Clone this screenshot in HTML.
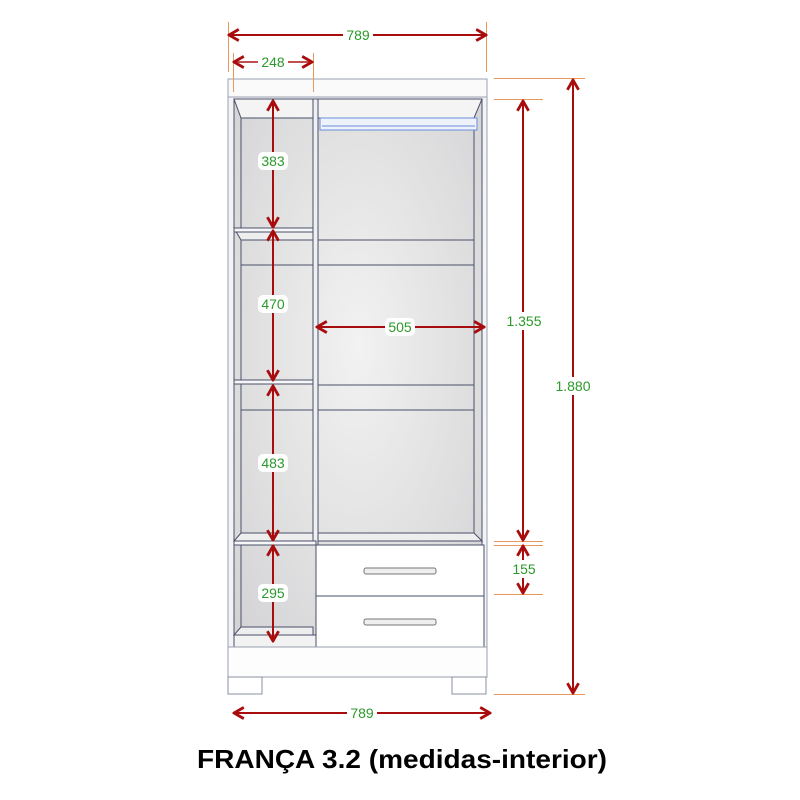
<!DOCTYPE html>
<html><head><meta charset="utf-8"><style>
html,body{margin:0;padding:0;background:#fff;width:800px;height:800px;overflow:hidden}
</style></head><body>
<svg width="800" height="800" viewBox="0 0 800 800" xmlns="http://www.w3.org/2000/svg">
<defs>
<radialGradient id="bg" cx="50%" cy="45%" r="70%"><stop offset="0" stop-color="#f2f2f2"/><stop offset="1" stop-color="#d4d4d6"/></radialGradient>
<marker id="ah" viewBox="0 0 10 10" refX="9" refY="5" markerWidth="7" markerHeight="7" orient="auto-start-reverse"><path d="M2,1 L9,5 L2,9" fill="none" stroke="#a80c0c" stroke-width="2"/></marker>
</defs>
<g stroke="#4a5068" stroke-width="1" fill="none">
<!-- top board -->
<rect x="228" y="79" width="259" height="18" fill="#fafafa" stroke="#9aa0b0"/>
<!-- body -->
<rect x="228" y="97" width="259" height="580" fill="#f4f4f6" stroke="#9aa0b0"/>
<rect x="234" y="99" width="248" height="548" fill="url(#bg)"/>
<!-- left compartment -->
<polygon points="234,99 313,99 313,118 241,118" fill="#f4f4f4"/>
<line x1="241" y1="118" x2="241" y2="640"/>
<line x1="241" y1="118" x2="313" y2="118"/>
<rect x="313" y="99" width="5" height="446" fill="#f0f0f2"/>
<!-- left shelves -->
<polygon points="234,228 313,228 313,240 241,240" fill="#eeeeee"/>
<rect x="234" y="228" width="79" height="4" fill="#f7f7f7"/>
<line x1="241" y1="265" x2="313" y2="265"/>
<rect x="234" y="380" width="79" height="4" fill="#f7f7f7"/>
<line x1="241" y1="410" x2="313" y2="410"/>
<polygon points="241,533 234,541 313,541 313,533" fill="#eeeeee"/>
<rect x="234" y="541" width="82" height="4" fill="#f7f7f7"/>
<polygon points="241,627 234,635 313,635 313,627" fill="#eeeeee"/>
<rect x="234" y="635" width="82" height="12" fill="#f2f2f2"/>
<!-- right compartment -->
<polygon points="318,99 482,99 474,118 318,118" fill="#f4f4f4"/>
<line x1="474" y1="118" x2="474" y2="533"/>
<line x1="318" y1="240" x2="474" y2="240"/>
<line x1="318" y1="265" x2="474" y2="265"/>
<line x1="318" y1="385" x2="474" y2="385"/>
<line x1="318" y1="410" x2="474" y2="410"/>
<polygon points="318,533 474,533 482,541 318,541" fill="#eeeeee"/>
<!-- rod -->
<rect x="320" y="118" width="157" height="12" fill="#eef2fb" stroke="#6a8ad8"/>
<line x1="322" y1="126" x2="475" y2="126" stroke="#6a8ad8"/>
<!-- drawers -->
<rect x="316" y="545" width="168" height="51" fill="#fff"/>
<rect x="316" y="596" width="168" height="51" fill="#fff"/>
<rect x="364" y="568" width="72" height="6" rx="2" fill="#eee" stroke="#777"/>
<rect x="364" y="619" width="72" height="6" rx="2" fill="#eee" stroke="#777"/>
<!-- base -->
<rect x="228" y="647" width="259" height="30" fill="#fdfdfd" stroke="#9aa0b0"/>
<rect x="228" y="677" width="34" height="17" fill="#fff" stroke="#8a90a0"/>
<rect x="452" y="677" width="34" height="17" fill="#fff" stroke="#8a90a0"/>
</g>
<!-- extension lines -->
<g stroke="#e8965a" stroke-width="1">
<line x1="228.5" y1="22" x2="228.5" y2="72"/>
<line x1="486.5" y1="22" x2="486.5" y2="72"/>
<line x1="233.5" y1="53" x2="233.5" y2="92"/>
<line x1="313.5" y1="53" x2="313.5" y2="92"/>
<line x1="494" y1="78.5" x2="585" y2="78.5"/>
<line x1="494" y1="99.5" x2="543" y2="99.5"/>
<line x1="494" y1="541.5" x2="543" y2="541.5"/>
<line x1="494" y1="545.5" x2="543" y2="545.5"/>
<line x1="494" y1="594.5" x2="543" y2="594.5"/>
<line x1="494" y1="694.5" x2="585" y2="694.5"/>
</g>
<!-- dimension lines -->
<g stroke="#a80c0c" stroke-width="2" marker-start="url(#ah)" marker-end="url(#ah)">
<line x1="229" y1="35" x2="486" y2="35"/>
<line x1="234" y1="62" x2="312" y2="62" stroke="#c05050"/>
<line x1="273" y1="101" x2="273" y2="227"/>
<line x1="273" y1="231" x2="273" y2="380"/>
<line x1="273" y1="386" x2="273" y2="540"/>
<line x1="273" y1="546" x2="273" y2="641"/>
<line x1="317" y1="327" x2="484" y2="327"/>
<line x1="523" y1="101" x2="523" y2="540"/>
<line x1="523" y1="546" x2="523" y2="593"/>
<line x1="573" y1="80" x2="573" y2="693"/>
<line x1="234" y1="713" x2="490" y2="713"/>
</g>
<!-- labels -->
<g font-family="'Liberation Sans',sans-serif" font-size="14" fill="#2a9a2a" text-anchor="middle">
<rect x="343" y="27" width="30" height="16" fill="#fff"/><text x="358" y="40">789</text>
<rect x="258" y="54" width="30" height="16" fill="#fff"/><text x="273" y="67">248</text>
<rect x="258" y="152" width="30" height="18" rx="5" fill="#fff"/><text x="273" y="166">383</text>
<rect x="258" y="295" width="30" height="18" rx="5" fill="#fff"/><text x="273" y="309">470</text>
<rect x="258" y="454" width="30" height="18" rx="5" fill="#fff"/><text x="273" y="468">483</text>
<rect x="258" y="584" width="30" height="18" rx="5" fill="#fff"/><text x="273" y="598">295</text>
<rect x="385" y="318" width="30" height="18" rx="5" fill="#fff"/><text x="400" y="332">505</text>
<rect x="505" y="312" width="38" height="18" fill="#fff"/><text x="524" y="326">1.355</text>
<rect x="512" y="560" width="24" height="18" fill="#fff"/><text x="524" y="574">155</text>
<rect x="554" y="377" width="38" height="18" fill="#fff"/><text x="573" y="391">1.880</text>
<rect x="347" y="705" width="30" height="16" fill="#fff"/><text x="362" y="718">789</text>
</g>
<text x="402" y="768" font-family="'Liberation Sans',sans-serif" font-weight="bold" font-size="26" text-anchor="middle" textLength="410" lengthAdjust="spacingAndGlyphs" fill="#000">FRANÇA  3.2 (medidas-interior)</text>
</svg>
</body></html>
